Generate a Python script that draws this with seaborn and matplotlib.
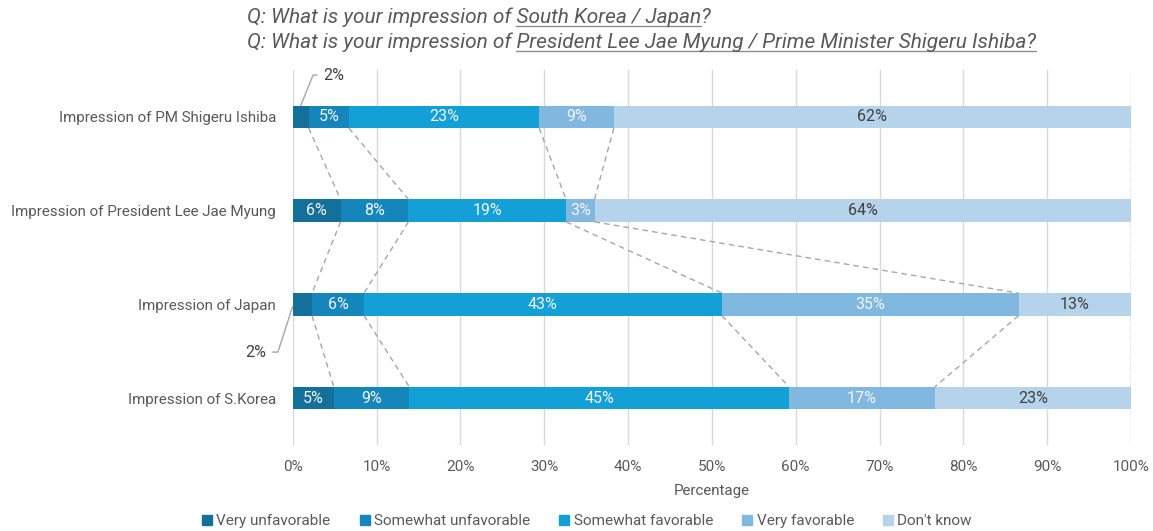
import matplotlib
matplotlib.use("Agg")
import matplotlib.pyplot as plt
from matplotlib.lines import Line2D
import numpy as np
import pandas as pd
import seaborn as sns

# ---- data -----------------------------------------------------------------
subjects = [
    "Impression of PM Shigeru Ishiba",
    "Impression of President Lee Jae Myung",
    "Impression of Japan",
    "Impression of S.Korea",
]
responses = ["Very unfavorable", "Somewhat unfavorable", "Somewhat favorable",
             "Very favorable", "Don't know"]
very_unfavorable = [1.9, 5.7, 2.3, 4.9]
somewhat_unfavorable = [4.8, 8.1, 6.2, 9.0]
somewhat_favorable = [22.7, 18.8, 42.7, 45.3]
very_favorable = [8.9, 3.4, 35.4, 17.4]
dont_know = [61.7, 64.0, 13.4, 23.4]
x_ticks = list(range(0, 101, 10))
x_tick_labels = [f"{t}%" for t in x_ticks]

# ---- styling --------------------------------------------------------------
colors = ["#13709A", "#1586BC", "#12A0D7", "#80B8E0", "#B6D3EC"]
label_colors = ["#F4F4F4", "#F4F4F4", "#F4F4F4", "#F4F4F4", "#404040"]
text_gray = "#595959"
bar_h = 0.24

sns.set_theme(style="white")
plt.rcParams["font.family"] = ["Roboto", "DejaVu Sans"]

series = [very_unfavorable, somewhat_unfavorable, somewhat_favorable,
          very_favorable, dont_know]
rows = []
for r, vals in zip(responses, series):
    for s, v in zip(subjects, vals):
        rows.append({"subject": s, "response": r, "value": v})
df = pd.DataFrame(rows)
df["response"] = pd.Categorical(df["response"], responses, ordered=True)
df["subject"] = pd.Categorical(df["subject"], subjects, ordered=True)
df = df.sort_values(["subject", "response"])
df["end"] = df.groupby("subject", observed=True)["value"].cumsum()
df["start"] = df["end"] - df["value"]

fig = plt.figure(figsize=(11.53, 5.31), dpi=100)
ax = fig.add_axes([0.2539, 0.162, 0.7270, 0.7062])

# stacked bars: draw cumulative totals from the outermost level inwards
for resp, col in reversed(list(zip(responses, colors))):
    sub = df[df["response"] == resp]
    sns.barplot(data=sub, x="end", y="subject", order=subjects, orient="h",
                color=col, width=bar_h, errorbar=None, linewidth=0,
                saturation=1, ax=ax)

ax.set_xlim(0, 100)
ax.set_ylim(3.5, -0.5)
ax.set_xticks(x_ticks)
ax.set_xticklabels(x_tick_labels)
ax.xaxis.grid(True, color="#D9D9D9", lw=1)
ax.set_axisbelow(True)
for sp in ax.spines.values():
    sp.set_visible(False)
ax.tick_params(axis="both", length=0, labelcolor=text_gray)
ax.tick_params(axis="x", pad=11, labelsize=11)
ax.tick_params(axis="y", pad=12, labelsize=10.9)
ax.set_ylabel("")
ax.set_xlabel("Percentage", fontsize=10.9, color=text_gray, labelpad=7)

# segment value labels
small = {}
for _, row in df.iterrows():
    i = subjects.index(row["subject"])
    k = responses.index(row["response"])
    if row["value"] < 3 and k == 0:
        small[i] = row
        continue
    ax.text((row["start"] + row["end"]) / 2, i, f"{row['value']:.0f}%",
            ha="center", va="center", fontsize=11.5, color=label_colors[k])

# leader labels for the thin very-unfavorable slices
leader = {0: dict(anchor="top", xytext=(16, 22), angleB=68),
          2: dict(anchor="left", xytext=(-19, -33), angleB=-108)}
for i, row in small.items():
    spec = leader[i]
    if spec["anchor"] == "top":
        xy = ((row["start"] + row["end"]) / 2, i - bar_h / 2)
    else:
        xy = (row["start"], i + 0.02)
    ha = "left" if spec["xytext"][0] > 0 else "right"
    ax.annotate(f"{row['value']:.0f}%", xy=xy,
                xytext=spec["xytext"], textcoords="offset points",
                ha=ha, va="center", fontsize=11.5, color="#404040",
                arrowprops=dict(arrowstyle="-", color="#A6A6A6", lw=1,
                                shrinkA=2, shrinkB=0,
                                connectionstyle=f"angle,angleA=0,angleB={spec['angleB']},rad=0"),
                annotation_clip=False)

# dashed connectors between the segment boundaries of neighbouring bars
ends = df.pivot(index="subject", columns="response", values="end").loc[subjects, responses]
for i in range(len(subjects) - 1):
    for k in range(len(responses)):
        ax.plot([ends.iloc[i, k], ends.iloc[i + 1, k]],
                [i + bar_h / 2, i + 1 - bar_h / 2],
                ls=(0, (4, 3)), color="#A6A6A6", lw=1, zorder=3)

# legend
handles = [Line2D([], [], marker="s", ls="", color=c, markersize=7) for c in colors]
fig.legend(handles, responses, loc="center", bbox_to_anchor=(0.508, 0.019),
           ncol=5, frameon=False, fontsize=11, labelcolor=text_gray,
           handletextpad=0.1, columnspacing=1.75, handlelength=1.0, borderpad=0)

# title lines with underlined subjects
renderer = fig.canvas.get_renderer()
title_kw = dict(fontsize=15, style="italic", color=text_gray, va="baseline",
                family=["Roboto", "DejaVu Sans"])


def text_width(s):
    t = fig.text(0, 0, s, **title_kw)
    w = t.get_window_extent(renderer).width
    t.remove()
    return w


def title_line(x, y, prefix, underlined, suffix):
    fig.text(x, y, prefix + underlined + suffix, **title_kw)
    x0_px = fig.transFigure.transform((x, y))
    start = text_width(prefix + "I") - text_width("I")
    end = text_width(prefix + underlined)
    px0 = x0_px[0] + start
    px1 = x0_px[0] + end
    py = x0_px[1] - 3
    inv = fig.transFigure.inverted()
    (fx0, fy), (fx1, _) = inv.transform([(px0, py), (px1, py)])
    fig.add_artist(Line2D([fx0, fx1], [fy, fy], transform=fig.transFigure,
                          color="#8C8C8C", lw=1))


title_line(0.2142, 0.9567, "Q: What is your impression of ", "South Korea / Japan", "?")
title_line(0.2142, 0.9096, "Q: What is your impression of ",
           "President Lee Jae Myung / Prime Minister Shigeru Ishiba?", "")

fig.savefig("out.png", dpi=100)
